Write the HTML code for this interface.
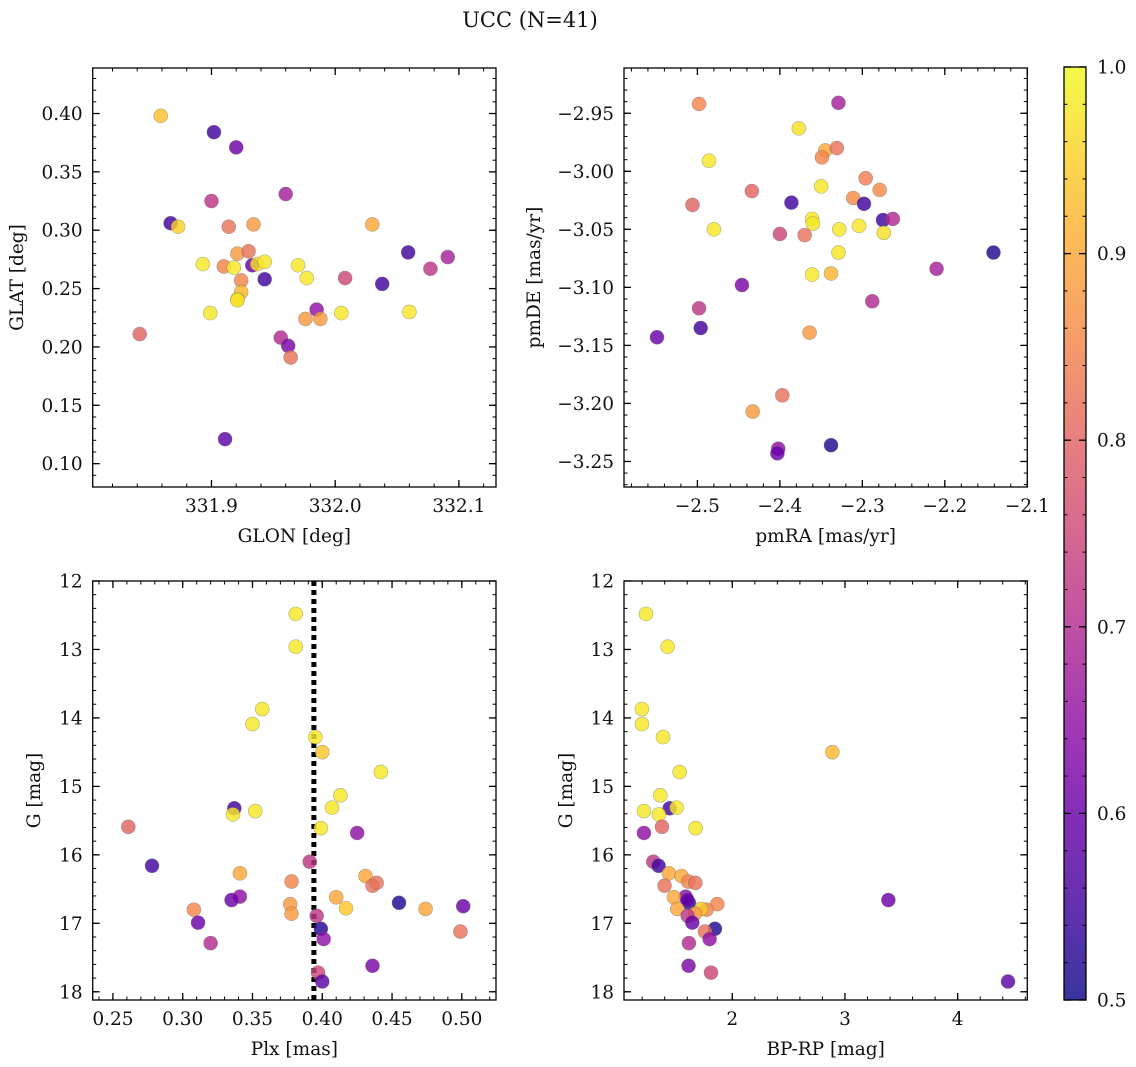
<!DOCTYPE html>
<html><head><meta charset="utf-8">
<style>
html,body{margin:0;padding:0;background:#fff;}
svg{display:block;font-family:"DejaVu Serif","Liberation Serif",serif;}
</style></head>
<body>
<svg id="fig" width="1136" height="1067" viewBox="0 0 1136 1067" xmlns="http://www.w3.org/2000/svg">
<text x="530" y="27" font-size="21" text-anchor="middle" fill="#111">UCC (N=41)</text>
</svg>
<script>
// ---- Panel 1: GLON vs GLAT ----
const glon = [331.859,331.902,331.920,331.960,331.900,331.867,331.873,331.914,331.934,332.030,331.921,331.930,332.059,331.893,331.910,331.918,331.933,331.937,331.943,331.970,331.977,332.008,332.077,332.091,331.924,331.943,332.038,331.924,331.921,331.899,331.985,331.976,331.988,332.005,332.060,331.842,331.956,331.962,331.964,331.911,331.921];
const glat = [0.398,0.384,0.371,0.331,0.325,0.306,0.303,0.303,0.305,0.305,0.280,0.282,0.281,0.271,0.269,0.268,0.270,0.271,0.273,0.270,0.259,0.259,0.267,0.277,0.257,0.258,0.254,0.247,0.241,0.229,0.232,0.224,0.224,0.229,0.230,0.211,0.208,0.201,0.191,0.121,0.240];
const prob1 = [0.93,0.55,0.6,0.68,0.72,0.55,0.95,0.82,0.88,0.9,0.88,0.82,0.55,0.98,0.85,0.98,0.6,0.97,0.98,0.98,0.98,0.75,0.72,0.68,0.85,0.55,0.55,0.92,0.98,0.98,0.65,0.88,0.88,0.98,0.98,0.8,0.7,0.62,0.82,0.58,0.97];
// ---- Panel 2: pmRA vs pmDE ----
const pmra = [-2.498,-2.329,-2.377,-2.486,-2.345,-2.331,-2.349,-2.350,-2.296,-2.279,-2.434,-2.506,-2.386,-2.311,-2.298,-2.480,-2.361,-2.360,-2.328,-2.304,-2.275,-2.263,-2.274,-2.400,-2.370,-2.141,-2.210,-2.361,-2.338,-2.329,-2.446,-2.288,-2.498,-2.496,-2.549,-2.364,-2.397,-2.433,-2.402,-2.403,-2.338];
const pmde = [-2.942,-2.941,-2.963,-2.991,-2.982,-2.980,-2.988,-3.013,-3.006,-3.016,-3.017,-3.029,-3.027,-3.023,-3.028,-3.050,-3.041,-3.045,-3.050,-3.047,-3.042,-3.041,-3.053,-3.054,-3.055,-3.070,-3.084,-3.089,-3.088,-3.070,-3.098,-3.112,-3.118,-3.135,-3.143,-3.139,-3.193,-3.207,-3.239,-3.243,-3.236];
const prob2 = [0.85,0.68,0.97,0.98,0.9,0.82,0.85,0.98,0.84,0.86,0.8,0.8,0.55,0.86,0.55,0.98,0.98,0.98,0.98,0.98,0.55,0.7,0.97,0.75,0.82,0.52,0.68,0.98,0.92,0.98,0.62,0.7,0.72,0.55,0.6,0.88,0.82,0.88,0.65,0.6,0.52];
// ---- Panel 3: Plx vs G ----
const plx = [0.381,0.381,0.357,0.350,0.395,0.400,0.442,0.413,0.407,0.352,0.337,0.336,0.399,0.261,0.425,0.278,0.391,0.341,0.378,0.431,0.436,0.439,0.410,0.417,0.341,0.335,0.377,0.378,0.308,0.455,0.474,0.501,0.499,0.311,0.396,0.399,0.401,0.320,0.436,0.397,0.400];
const gmag3 = [12.48,12.96,13.87,14.09,14.28,14.50,14.79,15.13,15.31,15.36,15.32,15.41,15.61,15.59,15.68,16.16,16.10,16.27,16.39,16.31,16.45,16.41,16.62,16.78,16.61,16.66,16.72,16.86,16.80,16.70,16.79,16.75,17.12,16.99,16.89,17.08,17.23,17.29,17.62,17.72,17.85];
const prob3 = [0.98,0.98,0.98,0.98,0.98,0.94,0.98,0.98,0.98,0.98,0.55,0.98,0.98,0.8,0.65,0.55,0.72,0.9,0.85,0.9,0.82,0.82,0.9,0.94,0.65,0.6,0.88,0.88,0.85,0.52,0.9,0.6,0.82,0.6,0.72,0.52,0.65,0.7,0.62,0.75,0.58];
const plxLine = [0.394];
// ---- Panel 4: BP-RP vs G ----
const bprp = [1.234,1.426,1.198,1.198,1.385,2.888,1.533,1.361,1.444,1.506,1.216,1.349,1.376,1.675,1.216,1.299,1.346,1.438,1.550,1.609,1.672,1.399,1.586,1.482,1.615,1.601,3.385,1.867,1.512,1.772,1.722,1.669,1.604,1.645,1.846,1.757,1.799,1.615,1.612,1.811,4.447];
const gmag4 = [12.48,12.96,13.87,14.09,14.28,14.50,14.79,15.13,15.32,15.31,15.36,15.41,15.59,15.61,15.68,16.10,16.16,16.27,16.31,16.39,16.41,16.45,16.61,16.62,16.70,16.66,16.66,16.72,16.79,16.80,16.79,16.86,16.89,16.99,17.08,17.12,17.23,17.29,17.62,17.72,17.85];
const prob4 = [0.98,0.98,0.98,0.98,0.98,0.92,0.98,0.98,0.55,0.98,0.98,0.98,0.8,0.98,0.65,0.72,0.55,0.9,0.9,0.85,0.82,0.82,0.65,0.9,0.52,0.6,0.6,0.85,0.9,0.85,0.94,0.88,0.72,0.6,0.52,0.82,0.65,0.7,0.62,0.75,0.58];
// ---- Tick labels ----
const ticks1x = [331.9,332.0,332.1];
const ticks1y = [0.10,0.15,0.20,0.25,0.30,0.35,0.40];
const ticks2x = [-2.5,-2.4,-2.3,-2.2,-2.1];
const ticks2y = [-3.25,-3.20,-3.15,-3.10,-3.05,-3.00,-2.95];
const ticks3x = [0.25,0.30,0.35,0.40,0.45,0.50];
const ticksG = [12,13,14,15,16,17,18];
const ticks4x = [2,3,4];
const ticksCb = [0.5,0.6,0.7,0.8,0.9,1.0];

const NS = "http://www.w3.org/2000/svg";
const svg = document.getElementById('fig');
const FS = 18.5;
function mk(tag, attrs, parent){ const e=document.createElementNS(NS,tag); for(const k in attrs) e.setAttribute(k,attrs[k]); (parent||svg).appendChild(e); return e; }

const plasma = [[13,8,135],[65,4,157],[106,0,168],[143,13,164],[177,42,144],[204,71,120],[225,100,98],[242,132,75],[252,166,54],[252,206,37],[240,249,33]];
function cmap(v){ let t=(v-0.5)/0.5; t=Math.max(0,Math.min(1,t)); const p=t*10; const i=Math.min(9,Math.floor(p)); const f=p-i; const a=plasma[i], b=plasma[i+1]; return 'rgb('+a.map((c,k)=>Math.round(c+(b[k]-c)*f)).join(',')+')'; }
function fmtTick(v,d){ const s=Math.abs(v).toFixed(d); return (v<0?'\u2212':'')+s; }

function panel(o){
  const g = mk('g',{});
  
  
  const sx = v => o.L + (v-o.xmin)/(o.xmax-o.xmin)*(o.R-o.L);
  const sy = o.yinv ? (v => o.T + (v-o.ymin)/(o.ymax-o.ymin)*(o.B-o.T)) : (v => o.B - (v-o.ymin)/(o.ymax-o.ymin)*(o.B-o.T));
  const eps=1e-9;
  for(let v=Math.ceil(o.xmin/o.xminor-eps)*o.xminor; v<=o.xmax+eps; v+=o.xminor){ const x=sx(v); mk('line',{x1:x,x2:x,y1:o.B,y2:o.B-3.5,stroke:'#000','stroke-width':1},g); mk('line',{x1:x,x2:x,y1:o.T,y2:o.T+3.5,stroke:'#000','stroke-width':1},g); }
  for(let v=Math.ceil(o.ymin/o.yminor-eps)*o.yminor; v<=o.ymax+eps; v+=o.yminor){ const y=sy(v); mk('line',{x1:o.L,x2:o.L+3.5,y1:y,y2:y,stroke:'#000','stroke-width':1},g); mk('line',{x1:o.R,x2:o.R-3.5,y1:y,y2:y,stroke:'#000','stroke-width':1},g); }
  o.xt.forEach(v=>{ const x=sx(v); mk('line',{x1:x,x2:x,y1:o.B,y2:o.B-7,stroke:'#000','stroke-width':1.3},g); mk('line',{x1:x,x2:x,y1:o.T,y2:o.T+7,stroke:'#000','stroke-width':1.3},g);
    const t=mk('text',{x:x,y:o.B+25,'font-size':FS,'text-anchor':'middle',fill:'#111'},g); t.textContent=fmtTick(v,o.xd);
    
     });
  o.yt.forEach(v=>{ const y=sy(v); mk('line',{x1:o.L,x2:o.L+7,y1:y,y2:y,stroke:'#000','stroke-width':1.3},g); mk('line',{x1:o.R,x2:o.R-7,y1:y,y2:y,stroke:'#000','stroke-width':1.3},g);
    const t=mk('text',{x:o.L-10,y:y+6.5,'font-size':FS,'text-anchor':'end',fill:'#111'},g); t.textContent=fmtTick(v,o.yd);
    
     });
  if(o.vline!==undefined){ const x=sx(o.vline); const l=mk('line',{x1:x,x2:x,y1:o.T,y2:o.B,stroke:'#000','stroke-width':5,'stroke-dasharray':'5 4'},g);
    
     }
  o.xs.forEach((xv,i)=>{ const c=mk('circle',{cx:sx(xv),cy:sy(o.ys[i]),r:7,fill:cmap(o.cs[i]),'fill-opacity':0.82,stroke:'#666','stroke-opacity':0.5,'stroke-width':0.6},g);
    
     });
  const fr=mk('rect',{x:o.L,y:o.T,width:o.R-o.L,height:o.B-o.T,fill:'none',stroke:'#000','stroke-width':1.3},g);
  
  
  const xl=mk('text',{x:(o.L+o.R)/2,y:o.B+55,'font-size':FS,'text-anchor':'middle',fill:'#111'},g); xl.textContent=o.xlabel;
  
  
  const yx=o.ylx, yy=(o.T+o.B)/2;
  const yl=mk('text',{x:yx,y:yy,'font-size':FS,'text-anchor':'middle',fill:'#111',transform:'rotate(-90 '+yx+' '+yy+')'},g); yl.textContent=o.ylabel;
  
  
}

panel({name:'glon-glat-panel',L:92.7,R:496,T:68,B:487,xmin:331.804,xmax:332.130,ymin:0.080,ymax:0.439,xminor:0.02,yminor:0.01,xt:ticks1x,yt:ticks1y,xd:1,yd:2,xs:glon,ys:glat,cs:prob1,xlabel:'GLON [deg]',ylabel:'GLAT [deg]',ylx:23});
panel({name:'pm-panel',L:624,R:1027.3,T:68,B:487,xmin:-2.589,xmax:-2.100,ymin:-3.272,ymax:-2.911,xminor:0.02,yminor:0.01,xt:ticks2x,yt:ticks2y,xd:1,yd:2,xs:pmra,ys:pmde,cs:prob2,xlabel:'pmRA [mas/yr]',ylabel:'pmDE [mas/yr]',ylx:540});
panel({name:'plx-g-panel',L:92.7,R:496,T:581,B:1000,xmin:0.2355,xmax:0.5245,ymin:12,ymax:18.12,yinv:true,xminor:0.01,yminor:0.2,xt:ticks3x,yt:ticksG,xd:2,yd:0,xs:plx,ys:gmag3,cs:prob3,xlabel:'Plx [mas]',ylabel:'G [mag]',ylx:40,vline:plxLine[0]});
panel({name:'cmd-panel',L:624,R:1027.3,T:581,B:1000,xmin:1.039,xmax:4.618,ymin:12,ymax:18.12,yinv:true,xminor:0.2,yminor:0.2,xt:ticks4x,yt:ticksG,xd:0,yd:0,xs:bprp,ys:gmag4,cs:prob4,xlabel:'BP-RP [mag]',ylabel:'G [mag]',ylx:572});

// colorbar
(function(){
  const L=1064,R=1086,T=67,B=1000;
  const cb=mk('g',{});
  
  
  const defs=mk('defs',{},cb);
  const lg=mk('linearGradient',{id:'cbg',x1:0,y1:1,x2:0,y2:0},defs);
  for(let i=0;i<=10;i++){ mk('stop',{offset:(i/10),'stop-color':cmap(0.5+i*0.05),'stop-opacity':0.82},lg); }
  mk('rect',{x:L,y:T,width:R-L,height:B-T,fill:'url(#cbg)'},cb);
  const sy=v=>B-(v-0.5)/0.5*(B-T);
  for(let v=0.5; v<=1.0001; v+=0.02){ const y=sy(v); mk('line',{x1:R,x2:R-3.5,y1:y,y2:y,stroke:'#000','stroke-width':1},cb); mk('line',{x1:L,x2:L+3.5,y1:y,y2:y,stroke:'#000','stroke-width':1},cb); }
  ticksCb.forEach(v=>{ const y=sy(v); mk('line',{x1:R,x2:R-7,y1:y,y2:y,stroke:'#000','stroke-width':1.3},cb); mk('line',{x1:L,x2:L+7,y1:y,y2:y,stroke:'#000','stroke-width':1.3},cb);
    const t=mk('text',{x:R+11,y:y+6.5,'font-size':FS,fill:'#111'},cb); t.textContent=v.toFixed(1);
    
     });
  mk('rect',{x:L,y:T,width:R-L,height:B-T,fill:'none',stroke:'#000','stroke-width':1.3},cb);
})();
</script>
</body></html>
